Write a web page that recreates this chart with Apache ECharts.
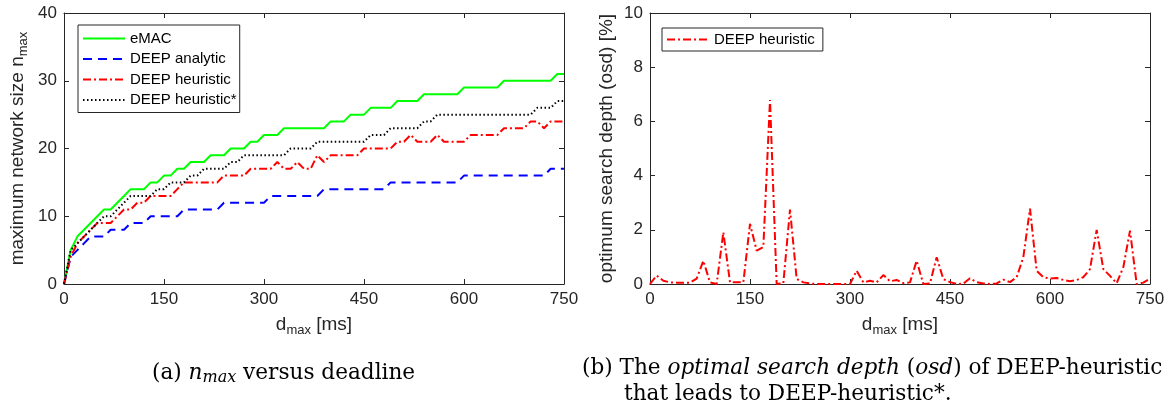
<!DOCTYPE html>
<html>
<head>
<meta charset="utf-8">
<script src="https://cdn.jsdelivr.net/npm/echarts@6/dist/echarts.min.js"></script>
<style>
  html, body { margin: 0; padding: 0; background: #fff; }
  #main { width: 1173px; height: 414px; }
</style>
</head>
<body>
<div id="main"></div>
<script>
// deadline samples [ms]
var dmax = [0, 10, 20, 30, 40, 50, 60, 70, 80, 90,
  100, 110, 120, 130, 140, 150, 160, 170, 180, 190,
  200, 210, 220, 230, 240, 250, 260, 270, 280, 290,
  300, 310, 320, 330, 340, 350, 360, 370, 380, 390,
  400, 410, 420, 430, 440, 450, 460, 470, 480, 490,
  500, 510, 520, 530, 540, 550, 560, 570, 580, 590,
  600, 610, 620, 630, 640, 650, 660, 670, 680, 690,
  700, 710, 720, 730, 740, 750];

var emac = [0, 5, 7, 8, 9, 10, 11, 11, 12, 13,
  14, 14, 14, 15, 15, 16, 16, 17, 17, 18,
  18, 18, 19, 19, 19, 20, 20, 20, 21, 21,
  22, 22, 22, 23, 23, 23, 23, 23, 23, 23,
  24, 24, 24, 25, 25, 25, 26, 26, 26, 26,
  27, 27, 27, 27, 28, 28, 28, 28, 28, 28,
  29, 29, 29, 29, 29, 29, 30, 30, 30, 30,
  30, 30, 30, 30, 31, 31];

var deepAnalytic = [0, 4, 5, 6, 7, 7, 7, 8, 8, 8,
  9, 9, 9, 10, 10, 10, 10, 10, 11, 11,
  11, 11, 11, 11, 12, 12, 12, 12, 12, 12,
  12, 13, 13, 13, 13, 13, 13, 13, 13, 14,
  14, 14, 14, 14, 14, 14, 14, 14, 14, 15,
  15, 15, 15, 15, 15, 15, 15, 15, 15, 15,
  16, 16, 16, 16, 16, 16, 16, 16, 16, 16,
  16, 16, 16, 17, 17, 17];

var deepHeuristic = [0, 4, 6, 7, 8, 9, 9, 9, 10, 11,
  11, 12, 12, 13, 13, 13, 13, 14, 15, 15,
  15, 15, 15, 15, 16, 16, 16, 16, 17, 17,
  17, 17, 18, 17, 17, 18, 17, 17, 19, 18,
  19, 19, 19, 19, 19, 20, 20, 20, 20, 20,
  21, 21, 22, 21, 21, 21, 22, 21, 21, 21,
  21, 22, 22, 22, 22, 22, 23, 23, 23, 23,
  24, 24, 23, 24, 24, 24];

var deepHeuristicStar = [0, 5, 6, 7, 8, 9, 10, 10, 11, 12,
  13, 13, 13, 13, 14, 14, 15, 15, 15, 16,
  16, 17, 17, 17, 17, 18, 18, 19, 19, 19,
  19, 19, 19, 19, 20, 20, 20, 20, 21, 21,
  21, 21, 21, 21, 21, 21, 22, 22, 22, 23,
  23, 23, 23, 23, 24, 24, 25, 25, 25, 25,
  25, 25, 25, 25, 25, 25, 25, 25, 25, 25,
  25, 26, 26, 26, 27, 27];

// optimum search depth [%]
var osd = [0, 0.31, 0.12, 0.06, 0.05, 0.05, 0.05, 0.2, 0.86, 0.06,
  0, 1.91, 0.06, 0.06, 0.06, 2.22, 1.23, 1.36, 6.79, 0,
  0.03, 2.75, 0.19, 0.06, 0.02, 0, 0, 0, 0, 0,
  0, 0.49, 0.06, 0.12, 0.06, 0.33, 0.1, 0.15, 0.03, 0.06,
  0.86, 0, 0.02, 0.99, 0.18, 0.07, 0, 0.01, 0.21, 0.07,
  0.02, 0, 0.02, 0.16, 0.07, 0.25, 0.99, 2.78, 0.49, 0.25,
  0.2, 0.22, 0.15, 0.1, 0.15, 0.25, 0.55, 2.0, 0.55, 0.3,
  0.03, 0.62, 1.97, 0, 0.05, 0.2];

function pairs(ys) {
  return dmax.map(function (x, i) { return [x, ys[i]]; });
}

var FONT = 'Liberation Sans, Arial, sans-serif';
var SERIF = 'DejaVu Serif, Liberation Serif, serif';
var AXC = '#262626';

var nameRich = {
  a: { fontSize: 19, fontFamily: FONT, color: AXC, lineHeight: 24 },
  s: { fontSize: 13, fontFamily: FONT, color: AXC, lineHeight: 13, verticalAlign: 'bottom' }
};

function xAx(grid, top) {
  return {
    type: 'value', gridIndex: grid, position: top ? 'top' : 'bottom',
    min: 0, max: 750, interval: 150,
    name: top ? '' : '{a|d}{s|max}{a| [ms]}',
    nameLocation: 'middle', nameGap: 29,
    nameTextStyle: { rich: nameRich },
    axisLine: { show: true, onZero: false, lineStyle: { color: AXC, width: 1 } },
    axisTick: { show: true, inside: true, length: 5, lineStyle: { color: AXC } },
    axisLabel: { show: !top, margin: 7, fontSize: 17, fontFamily: FONT, color: AXC },
    splitLine: { show: false }
  };
}

function yAx(grid, right, max, interval, name, gap) {
  return {
    type: 'value', gridIndex: grid, position: right ? 'right' : 'left',
    min: 0, max: max, interval: interval,
    name: right ? '' : name,
    nameLocation: 'middle', nameGap: gap || 0, nameRotate: 90,
    nameTextStyle: { rich: nameRich },
    axisLine: { show: true, onZero: false, lineStyle: { color: AXC, width: 1 } },
    axisTick: { show: true, inside: true, length: 5, lineStyle: { color: AXC } },
    axisLabel: { show: !right, margin: 7, fontSize: 17, fontFamily: FONT, color: AXC },
    splitLine: { show: false }
  };
}

function lineSeries(name, data, color, dash, xi, yi) {
  return {
    name: name, type: 'line', data: pairs(data),
    xAxisIndex: xi, yAxisIndex: yi,
    symbol: 'none', animation: false,
    lineStyle: { color: color, width: 2, type: dash },
    itemStyle: { color: color }
  };
}

var chart = echarts.init(document.getElementById('main'));

var option = {
  backgroundColor: '#fff',
  animation: false,
  grid: [
    { left: 64, right: 609, top: 13, bottom: 130 },
    { left: 650, right: 23, top: 13, bottom: 130 }
  ],
  xAxis: [xAx(0, false), xAx(0, true), xAx(1, false), xAx(1, true)],
  yAxis: [
    yAx(0, false, 40, 10, '{a|maximum network size n}{s|max}', 34),
    yAx(0, true, 40, 10, ''),
    yAx(1, false, 10, 2, '{a|optimum search depth (osd) [%]}', 31),
    yAx(1, true, 10, 2, '')
  ],
  legend: [
    {
      data: ['eMAC', 'DEEP analytic', 'DEEP heuristic', 'DEEP heuristic*'],
      orient: 'vertical', left: 78, top: 25,
      itemWidth: 42, itemHeight: 14, itemGap: 5.5,
      padding: [6, 3, 5, 4],
      itemStyle: { opacity: 0 },
      borderColor: AXC, borderWidth: 1, backgroundColor: '#fff',
      textStyle: { fontSize: 15, fontFamily: FONT, color: '#000' }
    },
    {
      data: ['DEEP heuristic osd'],
      formatter: function () { return 'DEEP heuristic'; },
      orient: 'vertical', left: 662, top: 28,
      itemWidth: 42, itemHeight: 14,
      padding: [4, 8, 4, 4],
      itemStyle: { opacity: 0 },
      borderColor: AXC, borderWidth: 1, backgroundColor: '#fff',
      textStyle: { fontSize: 15, fontFamily: FONT, color: '#000' }
    }
  ],
  series: [
    lineSeries('eMAC', emac, '#00ff00', 'solid', 0, 0),
    lineSeries('DEEP analytic', deepAnalytic, '#0000ff', [9, 6], 0, 0),
    lineSeries('DEEP heuristic', deepHeuristic, '#ff0000', [8, 3, 2, 3], 0, 0),
    lineSeries('DEEP heuristic*', deepHeuristicStar, '#000000', [1.5, 2.5], 0, 0),
    lineSeries('DEEP heuristic osd', osd, '#ff0000', [8, 3, 2, 3], 2, 2)
  ],
  graphic: [
    {
      type: 'text', left: 152, top: 362,
      style: {
        text: '{r|(a) }{i|n}{is|max}{r| versus deadline}',
        rich: {
          r: { fontSize: 21.6, fontFamily: SERIF, fill: '#000', lineHeight: 26 },
          i: { fontSize: 21.6, fontFamily: SERIF, fontStyle: 'italic', fill: '#000', lineHeight: 26 },
          is: { fontSize: 16, fontFamily: SERIF, fontStyle: 'italic', fill: '#000', lineHeight: 16, verticalAlign: 'bottom' }
        }
      }
    },
    {
      type: 'text', left: 582, top: 357,
      style: {
        text: '{r|(b) The }{i|optimal search depth}{r| (}{i|osd}{r|) of DEEP-heuristic}\n{p|}{r|that leads to DEEP-heuristic*.}',
        rich: {
          r: { fontSize: 21.6, fontFamily: SERIF, fill: '#000', lineHeight: 26 },
          i: { fontSize: 21.6, fontFamily: SERIF, fontStyle: 'italic', fill: '#000', lineHeight: 26 },
          p: { width: 42, lineHeight: 26 }
        }
      }
    }
  ]
};

chart.setOption(option);
</script>
</body>
</html>
